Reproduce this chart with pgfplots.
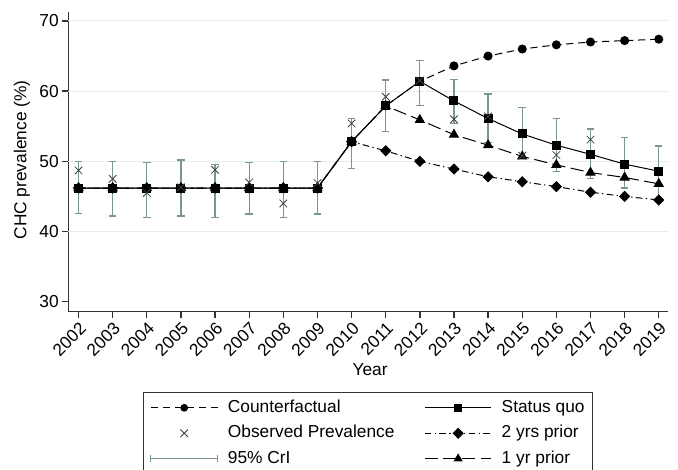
\documentclass[border=0pt]{standalone}
\usepackage{fontspec}
\setmainfont{Liberation Sans}
\usepackage{pgfplots}
\pgfplotsset{compat=1.18}
\usepackage{pgfplotstable}
\definecolor{cri}{RGB}{122,150,145}
\definecolor{gridc}{RGB}{230,237,241}
\newcommand\f{\fontsize{13}{15.6}\selectfont}

\pgfplotstableread{
year cf sq two one
2002 46.2 46.2 46.2 46.2
2003 46.2 46.2 46.2 46.2
2004 46.2 46.2 46.2 46.2
2005 46.2 46.2 46.2 46.2
2006 46.2 46.2 46.2 46.2
2007 46.2 46.2 46.2 46.2
2008 46.2 46.2 46.2 46.2
2009 46.2 46.2 46.2 46.2
2010 52.8 52.8 52.8 52.8
2011 57.9 57.9 51.5 57.9
2012 61.4 61.4 50.0 55.9
2013 63.6 58.6 48.9 53.8
2014 65.0 56.1 47.8 52.3
2015 66.0 53.9 47.1 50.7
2016 66.6 52.3 46.4 49.5
2017 67.0 51.0 45.6 48.4
2018 67.2 49.6 45.0 47.7
2019 67.4 48.6 44.5 46.8
}\models

\pgfplotstableread{
year obs
2002 48.7
2003 47.5
2004 45.5
2005 46.3
2006 48.8
2007 47.0
2008 44.0
2009 46.9
2010 55.4
2011 59.2
2012 61.5
2013 56.0
2014 56.4
2015 50.8
2016 50.9
2017 53.1
}\observed

\pgfplotstableread{
year lo hi
2002 42.6 50.0
2003 42.2 50.0
2004 42.0 49.8
2005 42.2 50.2
2006 42.0 49.6
2007 42.5 49.8
2008 42.0 50.0
2009 42.5 50.0
2010 49.0 56.1
2011 54.2 61.6
2012 57.9 64.4
2013 55.4 61.7
2014 52.7 59.6
2015 50.4 57.7
2016 48.5 56.1
2017 47.5 54.6
2018 46.2 53.4
2019 44.7 52.2
}\crtab

\begin{document}
\begin{tikzpicture}
\begin{axis}[
  at={(0,0)}, anchor=south west,
  scale only axis, width=450pt, height=225pt,
  xmin=2001.7, xmax=2019.28, ymin=28.58, ymax=71.32,
  axis x line*=bottom, axis y line*=left,
  axis line style={-, line width=1pt, black!80},
  tick align=outside, major tick length=5pt,
  every tick/.style={line width=1pt, black!80},
  xtick={2002,2003,...,2019}, ytick={30,40,50,60,70},
  /pgf/number format/assume math mode=true,
  /pgf/number format/1000 sep={},
  xticklabel style={font=\f, rotate=45, anchor=north east, inner sep=1.5pt},
  yticklabel style={font=\f, inner xsep=2pt},
  extra y ticks={40,50,60,70}, extra y tick labels={},
  extra y tick style={grid=major, major tick length=0pt},
  major grid style={gridc, line width=0.8pt},
  xlabel={Year}, ylabel={CHC prevalence (\%)},
  xlabel style={font=\f, at={(axis description cs:0.503,-0.194)}, anchor=center},
  ylabel style={font=\f, at={(axis description cs:-0.0772,0.5057)}, anchor=center},
  legend columns=2, legend cell align=left,
  legend style={font=\f, at={(axis description cs:0.124,-0.2677)}, anchor=north west,
    draw=black!80, inner xsep=5.5pt, inner ysep=5.5pt, row sep=6.8pt,
    nodes={inner sep=0pt, text height=9.5pt, text depth=2.8pt},
    /tikz/every odd column/.append style={column sep=7.3pt},
    /tikz/every even column/.append style={column sep=22.3pt}},
  legend image code/.code={\draw[mark repeat=2,mark phase=2,#1] plot coordinates {(0pt,0pt) (25pt,0pt) (50pt,0pt)};},
]
% credible intervals
\addplot[forget plot, draw=none, mark=none,
  error bars/.cd, y dir=both, y explicit,
  error bar style={draw=cri, solid, line width=0.9pt},
  error mark options={draw=cri, solid, line width=0.9pt, mark size=2.8pt, rotate=90}]
  table[x=year, y=lo, y error plus expr={\thisrow{hi}-\thisrow{lo}}, y error minus expr={0}] {\crtab};
% counterfactual
\addplot[forget plot, black, line width=0.75pt, dash pattern=on 5.5pt off 3.5pt, mark=*, mark size=3pt, mark options={solid}]
  table[x=year, y=cf] {\models};
% 2 yrs prior
\addplot[forget plot, black, line width=0.75pt, dash pattern=on 5pt off 2.5pt on 1pt off 2.5pt, mark=square*, mark size=2.6pt, mark options={solid, rotate=45}]
  table[x=year, y=two] {\models};
% 1 yr prior
\addplot[forget plot, black, line width=0.75pt, dash pattern=on 10pt off 4pt, mark=triangle*, mark size=3.8pt, mark options={solid}]
  table[x=year, y=one] {\models};
% status quo
\addplot[forget plot, black, line width=0.75pt, solid, mark=square*, mark size=3pt]
  table[x=year, y=sq] {\models};
% observed
\addplot[forget plot, only marks, mark=x, mark size=4pt, mark options={black!75, line width=0.6pt}]
  table[x=year, y=obs] {\observed};

% legend
\addlegendimage{black, line width=0.75pt, dash pattern=on 5.5pt off 3.5pt, mark=*, mark size=2.5pt, mark options={solid}}
\addlegendentry{Counterfactual}
\addlegendimage{black, line width=0.75pt, solid, mark=square*, mark size=2.6pt}
\addlegendentry{Status quo}
\addlegendimage{legend image code/.code={\draw[black!75, line width=0.6pt] plot[mark=x, mark size=4pt] coordinates {(25pt,0pt)};}}
\addlegendentry{Observed Prevalence}
\addlegendimage{black, line width=0.75pt, dash pattern=on 5pt off 2.5pt on 1pt off 2.5pt, mark=square*, mark size=2.6pt, mark options={solid, rotate=45}}
\addlegendentry{2 yrs prior}
\addlegendimage{legend image code/.code={\draw[cri, line width=0.9pt] (0pt,-2.5pt)--(0pt,2.5pt) (0pt,0pt)--(50pt,0pt) (50pt,-2.5pt)--(50pt,2.5pt);}}
\addlegendentry{95\% CrI}
\addlegendimage{black, line width=0.75pt, dash pattern=on 10pt off 4pt, mark=triangle*, mark size=3.3pt, mark options={solid}}
\addlegendentry{1 yr prior}
\end{axis}
\pgfresetboundingbox
\useasboundingbox (-51.225pt,-118.725pt) rectangle (457.275pt,233.775pt);
\end{tikzpicture}
\end{document}
